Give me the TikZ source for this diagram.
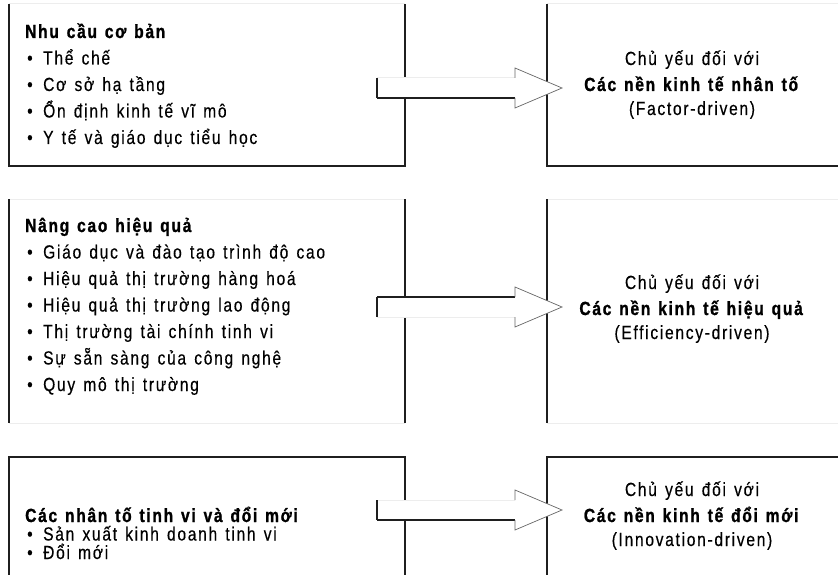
\documentclass[tikz,border=0pt]{standalone}
\usepackage{fontspec}
\setmainfont{Liberation Sans}[FakeStretch=0.82, LetterSpace=9, WordSpace=1.35, UprightFeatures={FakeBold=0.4}, BoldFeatures={FakeBold=1.2, WordSpace=1.3}]
\usetikzlibrary{calc}

\tikzset{
    panel/.style={inner sep=0pt, outer sep=0pt, minimum width=#1},
    dark/.style={line width=1.5pt, black!88},
    faint/.style={line width=1pt, black!7},
    headline/.style={line width=0.7pt, black!60},
    basefont/.style={font=\fontsize{19}{22}\selectfont, inner sep=0pt},
    head/.style={basefont, anchor=base west, font=\fontsize{19}{22}\selectfont\bfseries},
    item/.style={basefont, anchor=base west},
    rtext/.style={basefont, anchor=base},
}

\begin{document}
\begin{tikzpicture}[x=1pt, y=-1pt]
        \useasboundingbox (0,0) rectangle (838,575);
        \clip (0,0) rectangle (838,575);
        % Panels
        \node[panel=396pt, minimum height=162pt] (L1) at (207,85) {};
        \node[panel=320pt, minimum height=162pt] (R1) at (707,85) {};
        \node[panel=396pt, minimum height=224pt] (L2) at (207,311) {};
        \node[panel=320pt, minimum height=224pt] (R2) at (707,311) {};
        \node[panel=396pt, minimum height=160pt] (L3) at (207,537) {};
        \node[panel=320pt, minimum height=160pt] (R3) at (707,537) {};
        % Panel edges
        \draw [faint] (L1.north west) -- (L1.north east) (R1.north west) -- (R1.north east);
        \draw [dark] (L1.north west) -- (L1.south west) -- (L1.south east) -- (L1.north east);
        \draw [dark] (R1.north west) -- (R1.south west) -- (R1.south east);
        \foreach \p in {L2, R2} {
            \draw [faint] (\p.north west) -- (\p.north east) (\p.south west) -- (\p.south east);
            \draw [dark] (\p.north west) -- (\p.south west);
        }
        \draw [dark] (L2.north east) -- (L2.south east);
        \draw [dark] (L3.south west) -- (L3.north west) -- (L3.north east) -- (L3.south east);
        \draw [dark] (R3.south west) -- (R3.north west) -- (R3.north east);
        % Left texts
        \node[head] (h1) at (25,38) {Nhu cầu cơ bản};
        \foreach \txt [count=\i] in {Thể chế, Cơ sở hạ tầng, Ổn định kinh tế vĩ mô, Y tế và giáo dục tiểu học} {
            \node[item] (h1-\i) at (27,38+26.5*\i) {\makebox[16pt][l]{•}\txt};
        }
        \node[head] (h2) at (25,232) {Nâng cao hiệu quả};
        \foreach \txt [count=\i] in {Giáo dục và đào tạo trình độ cao, Hiệu quả thị trường hàng hoá, Hiệu quả thị trường lao động, Thị trường tài chính tinh vi, Sự sẵn sàng của công nghệ, Quy mô thị trường} {
            \node[item] (h2-\i) at (27,232+26.5*\i) {\makebox[16pt][l]{•}\txt};
        }
        \node[head] (h3) at (25,522) {Các nhân tố tinh vi và đổi mới};
        \foreach \txt [count=\i] in {Sản xuất kinh doanh tinh vi, Đổi mới} {
            \node[item] (h3-\i) at (27,522+18.5*\i) {\makebox[16pt][l]{•}\txt};
        }
        % Right texts
        \foreach \y/\name/\en [count=\i] in {65/nhân tố/Factor-driven, 289/hiệu quả/Efficiency-driven, 496/đổi mới/Innovation-driven} {
            \node[rtext] (r\i a) at (692,\y) {Chủ yếu đối với};
            \node[rtext] (r\i b) at (692,\y+26) {\textbf{Các nền kinh tế \name}};
            \node[rtext] (r\i c) at (692,\y+50) {(\en)};
        }
        % Block arrows
        \foreach \y/\sa/\sb [count=\i] in {88/faint/dark, 307/dark/faint, 510/faint/dark} {
            \coordinate (s\i) at (377,\y);
            \coordinate (t\i) at (562,\y);
            \fill [white] (s\i) ++(0,-10) -- ++(138,0) -- ++(0,-10) -- (t\i) -- ++(-47,20) -- ++(0,-10) -- ++(-138,0) -- cycle;
            \draw [\sa] (s\i) ++(0,-10) -- ++(138,0);
            \draw [\sb] (s\i) ++(0,10) -- ++(138,0);
            \draw [dark] (s\i) ++(0,-10) -- ++(0,20);
            \draw [headline] (s\i) ++(138,-10) -- ++(0,-10) -- (t\i) -- ++(-47,20) -- ++(0,-10);
        }
\end{tikzpicture}
\end{document}
